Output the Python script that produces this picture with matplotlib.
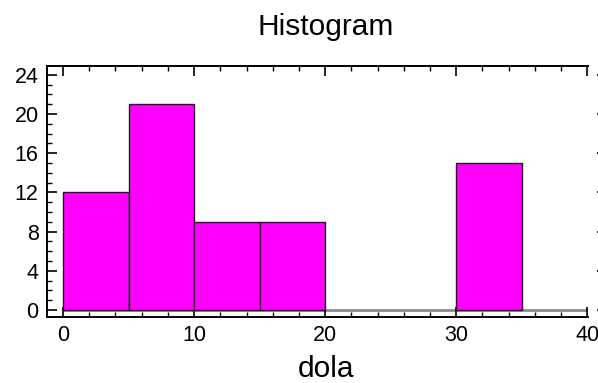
import matplotlib
matplotlib.use("Agg")
import matplotlib.pyplot as plt
from matplotlib.ticker import MultipleLocator

# bin edges and counts
bin_edges = [0, 5, 10, 15, 20, 25, 30, 35, 40]
counts = [12, 21, 9, 9, 0, 0, 15, 0]
x_ticks = [0, 10, 20, 30, 40]
y_ticks = [0, 4, 8, 12, 16, 20, 24]

plt.rcParams["font.family"] = ["Liberation Sans", "DejaVu Sans"]

fig = plt.figure(figsize=(5.98, 3.83), dpi=100)
ax = fig.add_axes([0.0786, 0.1723, 0.9047, 0.6554])

# grey baseline under the empty bins
ax.hlines(0, bin_edges[0], bin_edges[-1], color="#8c8c8c", linewidth=2, zorder=1)

lefts = bin_edges[:-1]
widths = [b - a for a, b in zip(bin_edges[:-1], bin_edges[1:])]
for left, w, c in zip(lefts, widths, counts):
    if c > 0:
        ax.bar(left, c, width=w, align="edge", color="#ff00ff",
               edgecolor="#1a1a1a", linewidth=1.0, zorder=2)

ax.set_xlim(-1.22, 40.05)
ax.set_ylim(-0.72, 24.9)
ax.set_xticks(x_ticks)
ax.set_yticks(y_ticks)
ax.xaxis.set_minor_locator(MultipleLocator(2))
ax.yaxis.set_minor_locator(MultipleLocator(1))

ax.tick_params(which="both", direction="in", top=True, right=True,
               labelsize=15.5, color="black")
ax.tick_params(which="major", length=7, width=1.2)
ax.tick_params(which="minor", length=3.5, width=1.0)
ax.tick_params(axis="y", pad=6)
ax.tick_params(axis="x", pad=6)

# right axis sits a bit outside the box, spine itself not drawn
ax.spines["right"].set_position(("outward", 14))
ax.spines["right"].set_visible(False)
for s in ["left", "top", "bottom"]:
    ax.spines[s].set_linewidth(1.4)

fig.text(0.545, 0.909, "Histogram", ha="center", va="baseline", fontsize=21.5)
fig.text(0.545, 0.016, "dola", ha="center", va="baseline", fontsize=21.5)

fig.savefig("out.png", dpi=100)
